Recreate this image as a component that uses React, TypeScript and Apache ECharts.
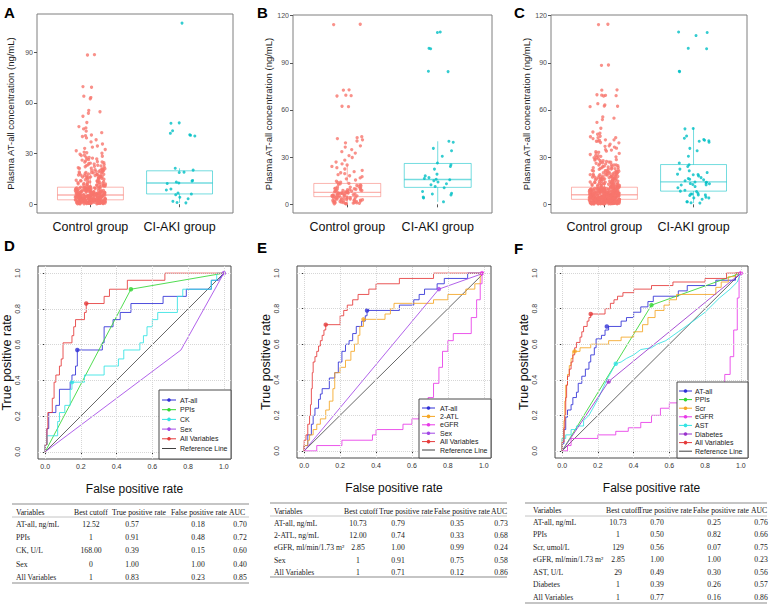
import React, { useEffect, useRef } from "react";
import * as echarts from "echarts";

// ---------------- DATA ----------------
const groupNames = ["Control group", "CI-AKI group"];
const ticksA = [0, 30, 60, 90];
const ticksBC = [0, 30, 60, 90, 120];
const rocTicks = [0, 0.2, 0.4, 0.6, 0.8, 1.0];

// Panel A (plasma AT-all, ng/mL)
const aControlLow = [0.4,1.2,2.7,0.8,3.5,5.1,1.9,4.3,6.8,2.2,0.6,7.4,3.1,5.6,1.5,8.2,4.8,2.9,0.9,6.1,3.8,9.3,1.1,5.4,2.4,7.9,4.1,0.3,10.6,3.3,6.5,1.7,8.7,2.6,5.9,0.7,11.4,4.6,3.0,7.1,1.3,9.8,2.0,6.3,4.0,12.3,0.5,5.2,3.6,8.4,1.8,6.9,2.8,13.1,4.4,0.9,7.6,3.2,10.1,1.4,5.7,2.3,9.0,4.9,0.2,6.6,3.4,11.9,1.6,8.0,2.5,5.0,14.2,3.9,7.3,1.0,6.0,4.2,9.6,2.1,0.6,12.8,5.5,3.7,8.9,1.2,7.0,2.9,10.9,4.7,0.4,6.2,3.0,13.7,1.9,5.8,2.7,8.6,4.5,1.5,11.2,6.4,3.5,7.8,0.8,9.4,2.4,5.3,14.8,3.1,1.1,6.7,4.1,10.3,2.2,7.5,0.7,5.0,12.0,3.8,8.1,1.7,6.0,2.6,4.3,9.9,1.3,13.4,5.6,3.3,7.2,0.5,4.8,2.0,11.7,6.8,1.6,8.8,3.6,5.1,15.0,2.8,0.9,7.7,4.0,10.4,1.8,6.5,3.2,12.6,2.5,5.4,0.3,9.1,4.6,1.4,7.0,3.9,14.5,2.1,6.3,8.3,1.0,5.9,3.4,11.0,0.6,4.9,2.3,7.4,13.9,1.9,6.1,4.4,9.7,2.7,0.8,5.3,
  2.4,6.9,0.5,11.3,3.7,8.1,1.3,5.2,13.5,4.0,9.4,2.0,7.2,0.9,12.1,3.3,6.0,1.7,10.0,4.8,8.6,2.6,14.0,5.7,0.4,7.7,3.0,11.6,1.1,6.4,4.5,9.9,2.9,0.7,12.9,5.1,8.3,1.5,3.9,7.0,10.8,2.2,6.6,0.3,4.2,13.2,8.9,1.8,5.5,3.4,11.9,7.4,2.7,0.9,9.2,4.6,6.2,1.2,14.6,3.1,8.0,5.9,2.1,10.4,0.6,7.8,4.3,12.5,1.6,6.7,3.6,9.5,2.5,5.0,0.8,11.1,7.1,4.1,1.4,13.8,8.4,3.2,6.1,2.0,10.7,5.4,0.5,9.0,3.8,7.5];
const aControlHigh = [88.6,88.4,69.7,69.3,64.0,63.2,62.5,55.6,54.8,53.9,52.1,48.4,46.0,45.2,44.6,43.3,42.4,41.0,40.6,40.1,39.3,38.2,36.9,35.7,34.5,33.8,33.1,32.4,31.7,30.9,30.2,29.6,29.0,28.4,27.7,27.3,26.8,26.1,25.7,25.2,24.6,24.1,23.8,23.3,22.9,22.4,22.0,21.6,21.2,20.8,20.3,20.0,19.7,19.3,18.9,18.6,18.1,17.8,17.4,17.0,16.7,16.3,16.0,15.6,15.3,24.9,23.5,22.2,21.0,19.9,19.0,18.3,17.6,16.9,16.4,15.8,21.4,18.7,17.2,16.1,20.5,19.5,17.9,16.6,15.5,27.9,26.4,25.0,23.1,28.8,30.5,26.9,22.7,24.3,17.3,15.9,19.1,16.2,18.4,20.9,15.4,17.7,16.8,19.8];
const aAki = [107.3,48.2,48.0,43.5,42.0,41.2,40.8,40.4,21.3,20.2,19.0,18.8,14.1,13.7,13.2,12.6,12.3,9.0,8.4,6.6,6.0,5.6,4.1,3.2,1.7,1.0,0.8];
// Panel B
const bControl = [114.5,114.3,72.8,72.6,69.4,69.1,68.9,62.4,62.1,43.0,42.4,41.8,41.0,40.3,39.1,37.2,36.4,34.8,33.5,32.6,31.0,29.8,28.1,26.9,25.7,25.0,24.1,23.3,22.5,21.6,20.8,20.1,19.5,18.9,18.2,17.6,16.8,16.2,15.5,3.4,9.1,0.6,12.8,6.2,1.9,14.1,7.7,4.5,10.3,2.8,8.4,0.9,13.3,5.6,11.5,3.1,7.0,1.4,9.8,6.6,2.2,12.0,4.9,8.0,0.4,10.9,5.2,3.7,7.4,1.1,9.4,6.0,2.5,13.9,4.2,8.7,0.8,11.1,5.9,3.0,7.9,1.6,6.9,10.0,2.0,4.7,8.9,0.5,12.4,5.4,3.5,7.2,1.2,9.6,6.4,2.7,14.7,4.0,8.2,1.8,10.6,5.0,3.3,7.6,0.7,6.8,9.2,2.4,11.8,4.6,8.5,1.5,5.8,3.8,7.1,0.3,10.2,6.1,2.9,13.0,4.3,8.8,1.0,5.5,9.9,3.6,7.3,2.1];
const bAki = [109.6,109.3,99.2,98.9,84.6,84.4,40.1,39.5,35.6,34.1,30.6,26.3,25.2,24.1,22.4,19.2,18.1,17.0,16.4,16.0,15.6,15.0,14.2,13.1,12.4,11.3,10.6,8.2,7.1,6.6,6.0,4.6,4.1,1.6];
// box statistics [lower whisker, Q1, median, Q3, upper whisker]
const aControlBox = [0.2, 2.6, 5.5, 10.1, 21.3];
const aAkiBox = [0.8, 6.1, 12.6, 19.8, 21.3];
const bControlBox = [0.3, 4.9, 7.6, 13.3, 25.0];
const bAkiBox = [1.6, 10.8, 15.8, 26.0, 40.1];
const cControlBox = [0.2, 3.2, 6.1, 10.9, 22.0];
const cAkiBox = [0.8, 8.4, 14.3, 25.3, 48.8];

// ROC curves [FPR, TPR]
const rocD_atall = [[0,0],[0,0.04],[0.01,0.04],[0.01,0.13],[0.02,0.13],[0.02,0.22],[0.06,0.22],[0.06,0.26],[0.08,0.26],[0.08,0.35],[0.14,0.35],[0.14,0.39],[0.15,0.39],[0.15,0.43],[0.17,0.43],[0.17,0.48],[0.18,0.48],[0.18,0.57],[0.32,0.57],[0.32,0.61],[0.33,0.61],[0.33,0.70],[0.38,0.70],[0.38,0.74],[0.42,0.74],[0.42,0.78],[0.48,0.78],[0.48,0.83],[0.66,0.83],[0.66,0.87],[0.79,0.87],[0.79,0.91],[0.93,0.91],[0.93,0.96],[0.97,0.96],[1,1]];
const rocD_ppis = [[0,0],[0.48,0.91],[1,1]];
const rocD_ck = [[0,0],[0,0.04],[0.01,0.04],[0.01,0.09],[0.07,0.09],[0.07,0.17],[0.08,0.17],[0.08,0.22],[0.11,0.22],[0.11,0.26],[0.14,0.26],[0.14,0.35],[0.15,0.35],[0.15,0.39],[0.22,0.39],[0.22,0.43],[0.33,0.43],[0.33,0.48],[0.41,0.48],[0.41,0.52],[0.44,0.52],[0.44,0.57],[0.53,0.57],[0.53,0.61],[0.55,0.61],[0.55,0.65],[0.57,0.65],[0.57,0.70],[0.6,0.70],[0.6,0.74],[0.63,0.74],[0.63,0.78],[0.74,0.78],[0.74,0.87],[0.77,0.87],[0.77,0.91],[0.93,0.91],[0.93,0.96],[0.96,0.96],[0.96,1],[1,1]];
const rocD_sex = [[0,0],[0.76,0.57],[1,1]];
const rocD_all = [[0,0],[0,0.04],[0.01,0.04],[0.01,0.13],[0.015,0.13],[0.015,0.22],[0.04,0.22],[0.04,0.30],[0.05,0.30],[0.05,0.39],[0.06,0.39],[0.06,0.43],[0.08,0.43],[0.08,0.48],[0.09,0.48],[0.09,0.52],[0.1,0.52],[0.1,0.61],[0.15,0.61],[0.15,0.65],[0.16,0.65],[0.16,0.7],[0.17,0.7],[0.17,0.74],[0.22,0.74],[0.22,0.78],[0.23,0.78],[0.23,0.83],[0.33,0.83],[0.33,0.87],[0.36,0.87],[0.36,0.91],[0.46,0.91],[0.46,0.96],[0.67,0.96],[0.67,1],[1,1]];
const rocE_atall = [[0,0],[0,0.03],[0.02,0.03],[0.02,0.09],[0.04,0.09],[0.04,0.15],[0.05,0.15],[0.05,0.2],[0.06,0.2],[0.06,0.24],[0.08,0.24],[0.08,0.29],[0.09,0.29],[0.09,0.32],[0.1,0.32],[0.1,0.35],[0.14,0.35],[0.14,0.41],[0.17,0.41],[0.17,0.44],[0.19,0.44],[0.19,0.5],[0.21,0.5],[0.21,0.56],[0.23,0.56],[0.23,0.6],[0.25,0.6],[0.25,0.62],[0.27,0.62],[0.27,0.66],[0.29,0.66],[0.29,0.7],[0.32,0.7],[0.32,0.73],[0.34,0.73],[0.34,0.76],[0.35,0.76],[0.35,0.79],[0.53,0.79],[0.53,0.82],[0.61,0.82],[0.61,0.85],[0.64,0.85],[0.64,0.88],[0.67,0.88],[0.67,0.91],[0.74,0.91],[0.74,0.94],[0.78,0.94],[0.78,0.97],[0.91,0.97],[0.91,1],[1,1]];
const rocE_2atl = [[0,0],[0,0.03],[0.02,0.03],[0.02,0.06],[0.03,0.06],[0.03,0.09],[0.05,0.09],[0.05,0.12],[0.07,0.12],[0.07,0.15],[0.09,0.15],[0.09,0.18],[0.12,0.18],[0.12,0.23],[0.14,0.23],[0.14,0.28],[0.16,0.28],[0.16,0.35],[0.17,0.35],[0.17,0.44],[0.2,0.44],[0.2,0.47],[0.23,0.47],[0.23,0.51],[0.26,0.51],[0.26,0.56],[0.28,0.56],[0.28,0.6],[0.3,0.6],[0.3,0.65],[0.31,0.65],[0.31,0.7],[0.33,0.7],[0.33,0.74],[0.45,0.74],[0.45,0.77],[0.48,0.77],[0.48,0.8],[0.5,0.8],[0.5,0.83],[0.72,0.83],[0.72,0.85],[0.8,0.85],[0.8,0.88],[0.9,0.88],[0.9,0.91],[0.95,0.91],[0.95,0.94],[0.98,0.94],[0.98,1],[1,1]];
const rocE_egfr = [[0,0],[0.07,0],[0.07,0.03],[0.21,0.03],[0.21,0.06],[0.38,0.06],[0.38,0.09],[0.40,0.09],[0.40,0.12],[0.55,0.12],[0.55,0.15],[0.6,0.15],[0.6,0.18],[0.64,0.18],[0.64,0.21],[0.66,0.21],[0.66,0.26],[0.69,0.26],[0.69,0.3],[0.72,0.3],[0.72,0.38],[0.75,0.38],[0.75,0.47],[0.77,0.47],[0.77,0.56],[0.8,0.56],[0.8,0.62],[0.83,0.62],[0.83,0.66],[0.93,0.66],[0.93,0.75],[0.96,0.75],[0.96,0.85],[0.98,0.85],[0.98,0.94],[0.99,0.94],[0.99,1],[1,1]];
const rocE_sex = [[0,0],[0.75,0.91],[1,1]];
const rocE_all = [[0,0],[0,0.06],[0.01,0.06],[0.01,0.09],[0.02,0.09],[0.02,0.15],[0.03,0.15],[0.03,0.2],[0.035,0.2],[0.035,0.26],[0.04,0.26],[0.04,0.35],[0.045,0.35],[0.045,0.44],[0.05,0.44],[0.05,0.5],[0.06,0.5],[0.06,0.53],[0.07,0.53],[0.07,0.56],[0.08,0.56],[0.08,0.59],[0.09,0.59],[0.09,0.62],[0.1,0.62],[0.1,0.65],[0.11,0.65],[0.11,0.68],[0.12,0.68],[0.12,0.71],[0.2,0.71],[0.2,0.76],[0.22,0.76],[0.22,0.79],[0.24,0.79],[0.24,0.82],[0.27,0.82],[0.27,0.85],[0.3,0.85],[0.3,0.88],[0.36,0.88],[0.36,0.91],[0.4,0.91],[0.4,0.94],[0.53,0.94],[0.53,0.97],[0.72,0.97],[0.72,1],[1,1]];
const rocF_atall = [[0,0],[0,0.04],[0.01,0.04],[0.01,0.12],[0.02,0.12],[0.02,0.19],[0.03,0.19],[0.03,0.23],[0.05,0.23],[0.05,0.26],[0.06,0.26],[0.06,0.3],[0.08,0.3],[0.08,0.33],[0.09,0.33],[0.09,0.38],[0.11,0.38],[0.11,0.42],[0.13,0.42],[0.13,0.46],[0.15,0.46],[0.15,0.5],[0.16,0.5],[0.16,0.54],[0.18,0.54],[0.18,0.58],[0.19,0.58],[0.19,0.63],[0.22,0.63],[0.22,0.65],[0.24,0.65],[0.24,0.68],[0.26,0.68],[0.26,0.7],[0.33,0.7],[0.33,0.73],[0.36,0.73],[0.36,0.75],[0.4,0.75],[0.4,0.78],[0.44,0.78],[0.44,0.81],[0.48,0.81],[0.48,0.84],[0.51,0.84],[0.51,0.87],[0.65,0.87],[0.65,0.9],[0.7,0.9],[0.7,0.93],[0.86,0.93],[0.86,0.96],[0.97,0.96],[0.97,1],[1,1]];
const rocF_ppis = [[0,0],[0.5,0.82],[1,1]];
const rocF_scr = [[0,0],[0,0.07],[0.01,0.07],[0.01,0.17],[0.015,0.17],[0.015,0.28],[0.02,0.28],[0.02,0.37],[0.03,0.37],[0.03,0.43],[0.04,0.43],[0.04,0.48],[0.05,0.48],[0.05,0.52],[0.06,0.52],[0.06,0.56],[0.1,0.56],[0.1,0.58],[0.16,0.58],[0.16,0.6],[0.26,0.6],[0.26,0.62],[0.33,0.62],[0.33,0.64],[0.4,0.64],[0.4,0.67],[0.45,0.67],[0.45,0.71],[0.48,0.71],[0.48,0.75],[0.52,0.75],[0.52,0.79],[0.57,0.79],[0.57,0.82],[0.6,0.82],[0.6,0.85],[0.64,0.85],[0.64,0.88],[0.86,0.88],[0.86,0.92],[0.89,0.92],[0.89,0.95],[0.93,0.95],[0.93,0.98],[0.97,0.98],[0.97,1],[1,1]];
const rocF_egfr = [[0,0],[0.03,0],[0.03,0.03],[0.05,0.03],[0.05,0.07],[0.2,0.07],[0.2,0.09],[0.3,0.09],[0.3,0.11],[0.37,0.11],[0.37,0.13],[0.44,0.13],[0.44,0.16],[0.5,0.16],[0.5,0.2],[0.55,0.2],[0.55,0.24],[0.6,0.24],[0.6,0.27],[0.68,0.27],[0.68,0.29],[0.76,0.29],[0.76,0.32],[0.82,0.32],[0.82,0.35],[0.87,0.35],[0.87,0.38],[0.91,0.38],[0.91,0.43],[0.94,0.43],[0.94,0.53],[0.96,0.53],[0.96,0.68],[0.98,0.68],[0.98,0.86],[0.99,0.86],[0.99,1],[1,1]];
const rocF_ast = [[0,0],[0,0.07],[0.02,0.07],[0.02,0.09],[0.05,0.09],[0.05,0.12],[0.08,0.12],[0.08,0.14],[0.12,0.14],[0.12,0.17],[0.15,0.2],[0.2,0.29],[0.25,0.4],[0.3,0.49],[0.33,0.5],[0.36,0.52],[0.4,0.54],[0.44,0.57],[0.5,0.58],[0.53,0.6],[0.58,0.62],[0.65,0.67],[0.72,0.72],[0.8,0.78],[0.88,0.86],[0.94,0.91],[0.98,0.95],[1,1]];
const rocF_diab = [[0,0],[0.26,0.39],[1,1]];
const rocF_all = [[0,0],[0,0.05],[0.01,0.05],[0.01,0.13],[0.015,0.13],[0.015,0.2],[0.02,0.2],[0.02,0.3],[0.025,0.3],[0.025,0.37],[0.03,0.37],[0.03,0.42],[0.04,0.42],[0.04,0.46],[0.05,0.46],[0.05,0.5],[0.06,0.5],[0.06,0.54],[0.07,0.54],[0.07,0.58],[0.08,0.58],[0.08,0.61],[0.1,0.61],[0.1,0.64],[0.11,0.64],[0.11,0.67],[0.12,0.67],[0.12,0.7],[0.14,0.7],[0.14,0.73],[0.15,0.73],[0.15,0.75],[0.16,0.75],[0.16,0.77],[0.24,0.77],[0.24,0.8],[0.27,0.8],[0.27,0.83],[0.29,0.83],[0.29,0.85],[0.31,0.85],[0.31,0.87],[0.34,0.87],[0.34,0.89],[0.4,0.89],[0.4,0.91],[0.5,0.91],[0.5,0.93],[0.62,0.93],[0.62,0.95],[0.8,0.95],[0.8,0.97],[0.92,0.97],[0.92,1],[1,1]];
const reference = [[0,0],[1,1]];

// best-cutoff markers [FPR, TPR] as plotted
const markD = [[0.18,0.57],[0.48,0.91],[0.15,0.39],[1,1],[0.23,0.83]];
const markE = [[0.35,0.79],[0.33,0.74],[0.99,1],[0.75,0.91],[0.12,0.71]];
const markF = [[0.25,0.70],[0.5,0.82],[0.07,0.56],[1,1],[0.30,0.49],[0.26,0.39],[0.16,0.77]];

const namesD = ["AT-all","PPIs","CK","Sex","All Variables"];
const namesE = ["AT-all","2-ATL","eGFR","Sex","All Variables"];
const namesF = ["AT-all","PPIs","Scr","eGFR","AST","Diabetes","All Variables"];

const tableHeader = ["Variables","Best cutoff","True positive rate","False positive rate","AUC"];
const tableD = [
  ["AT-all, ng/mL","12.52","0.57","0.18","0.70"],
  ["PPIs","1","0.91","0.48","0.72"],
  ["CK, U/L","168.00","0.39","0.15","0.60"],
  ["Sex","0","1.00","1.00","0.40"],
  ["All Variables","1","0.83","0.23","0.85"],
];
const tableE = [
  ["AT-all, ng/mL","10.73","0.79","0.35","0.73"],
  ["2-ATL, ng/mL","12.00","0.74","0.33","0.68"],
  ["eGFR, ml/min/1.73 m\u00B2","2.85","1.00","0.99","0.24"],
  ["Sex","1","0.91","0.75","0.58"],
  ["All Variables","1","0.71","0.12","0.86"],
];
const tableF = [
  ["AT-all, ng/mL","10.73","0.70","0.25","0.76"],
  ["PPIs","1","0.50","0.82","0.66"],
  ["Scr, umol/L","129","0.56","0.07","0.75"],
  ["eGFR, ml/min/1.73 m\u00B2","2.85","1.00","1.00","0.23"],
  ["AST, U/L","29","0.49","0.30","0.56"],
  ["Diabetes","1","0.39","0.26","0.57"],
  ["All Variables","1","0.77","0.16","0.86"],
];

// ---------------- STYLE / LAYOUT ----------------
const SANS = "Liberation Sans";
const SERIF = "Liberation Serif";
const RED = "#F8766D";
const TEAL = "#00BFC4";
const C = {
  blue: "#2F2FD6", green: "#33D633", cyan: "#33E3E3", purple: "#A347E6",
  red: "#E53A3A", orange: "#F5A623", magenta: "#E83AE8", diab: "#9932CC", ref: "#404040",
};
const colorsD = [C.blue, C.green, C.cyan, C.purple, C.red];
const colorsE = [C.blue, C.orange, C.magenta, C.purple, C.red];
const colorsF = [C.blue, C.green, C.orange, C.magenta, C.cyan, C.diab, C.red];

function jit(i: number, w: number) {
  const s = Math.sin((i + 1) * 12.9898) * 43758.5453;
  return (s - Math.floor(s) - 0.5) * 2 * w;
}

export default function App() {
  const ref = useRef<HTMLDivElement>(null);
  useEffect(() => {
    if (!ref.current) return;
    const chart = echarts.init(ref.current, null, { renderer: "svg" });

    const cControl = [...aControlLow, ...aControlHigh, ...bControl];
    const cAki = [...aAki, ...bAki];
    const boxPanels = [
      { grid: { left: 37, top: 14, width: 196, height: 199 }, min: -5.2, max: 112.7, ticks: ticksA, gap: 22,
        control: [...aControlLow, ...aControlHigh], aki: aAki, boxes: [aControlBox, aAkiBox] },
      { grid: { left: 293, top: 15, width: 199, height: 198 }, min: -5.5, max: 120.4, ticks: ticksBC, gap: 17,
        control: bControl, aki: bAki, boxes: [bControlBox, bAkiBox] },
      { grid: { left: 551, top: 15, width: 196, height: 198 }, min: -5.5, max: 120.4, ticks: ticksBC, gap: 17,
        control: cControl, aki: cAki, boxes: [cControlBox, cAkiBox] },
    ];
    const rocPanels = [
      { grid: { left: 38, top: 266, width: 193, height: 193 }, curves: [rocD_atall, rocD_ppis, rocD_ck, rocD_sex, rocD_all],
        names: namesD, colors: colorsD, marks: markD, gap: 19 },
      { grid: { left: 297, top: 266, width: 194, height: 192 }, curves: [rocE_atall, rocE_2atl, rocE_egfr, rocE_sex, rocE_all],
        names: namesE, colors: colorsE, marks: markE, gap: 20 },
      { grid: { left: 555, top: 266, width: 193, height: 192 }, curves: [rocF_atall, rocF_ppis, rocF_scr, rocF_egfr, rocF_ast, rocF_diab, rocF_all],
        names: namesF, colors: colorsF, marks: markF, gap: 21 },
    ];

    const grids: any[] = [];
    const xAxes: any[] = [];
    const yAxes: any[] = [];
    const series: any[] = [];

    boxPanels.forEach((p, k) => {
      grids.push({ ...p.grid, outerBoundsMode: "none", containLabel: false, show: true, borderColor: "#7F7F7F", borderWidth: 1, backgroundColor: "#fff", z: 0 });
      xAxes.push({
        type: "value", gridIndex: k, min: 0.4, max: 2.6,
        axisLine: { show: false }, splitLine: { show: false },
        axisTick: { show: true, customValues: [1, 2], length: 3, lineStyle: { color: "#555" } },
        axisLabel: { customValues: [1, 2], formatter: (v: number) => groupNames[Math.round(v) - 1],
          fontFamily: SANS, fontSize: 12.5, color: "#111", margin: 7 },
      });
      yAxes.push({
        type: "value", gridIndex: k, min: p.min, max: p.max,
        axisLine: { show: false }, splitLine: { show: false },
        axisTick: { show: true, customValues: p.ticks, length: 3, lineStyle: { color: "#555" } },
        axisLabel: { customValues: p.ticks, fontFamily: SANS, fontSize: 7, color: "#4D4D4D", margin: 4 },
        name: "Plasma AT-all concentration (ng/mL)", nameLocation: "middle", nameRotate: 90, nameGap: p.gap,
        nameTextStyle: { fontFamily: SANS, fontSize: 9.5, color: "#1a1a1a" },
      });
      const boxColors = ["rgba(248,118,109,0.55)", "rgba(0,191,196,0.55)"];
      series.push({
        type: "custom", xAxisIndex: k, yAxisIndex: k, z: 2, silent: true,
        data: p.boxes.map((b, i) => [i + 1, ...b]),
        encode: { x: 0, y: [1, 2, 3, 4, 5] },
        renderItem: (params: any, api: any) => {
          const x = api.value(0);
          const lo = api.coord([x, api.value(1)]);
          const q1 = api.coord([x, api.value(2)]);
          const md = api.coord([x, api.value(3)]);
          const q3 = api.coord([x, api.value(4)]);
          const hi = api.coord([x, api.value(5)]);
          const hw = api.size([0.37, 0])[0];
          const col = boxColors[params.dataIndex];
          const st = { stroke: col, lineWidth: 1, fill: "none" };
          return {
            type: "group",
            children: [
              { type: "line", shape: { x1: lo[0], y1: lo[1], x2: q1[0], y2: q1[1] }, style: st },
              { type: "line", shape: { x1: q3[0], y1: q3[1], x2: hi[0], y2: hi[1] }, style: st },
              { type: "rect", shape: { x: q1[0] - hw, y: q3[1], width: hw * 2, height: q1[1] - q3[1] }, style: st },
              { type: "line", shape: { x1: md[0] - hw, y1: md[1], x2: md[0] + hw, y2: md[1] }, style: { ...st, lineWidth: 1.4 } },
            ],
          };
        },
      });
      series.push({
        type: "scatter", xAxisIndex: k, yAxisIndex: k, z: 3, symbolSize: 3.3, silent: true,
        itemStyle: { color: RED },
        data: p.control.map((v, i) => [1 + jit(i, 0.17), v]),
      });
      series.push({
        type: "scatter", xAxisIndex: k, yAxisIndex: k, z: 3, symbolSize: 3, silent: true,
        itemStyle: { color: TEAL },
        data: p.aki.map((v, i) => [2 + jit(i + 500, 0.18), v]),
      });
    });

    rocPanels.forEach((p, j) => {
      const k = j + 3;
      grids.push({ ...p.grid, outerBoundsMode: "none", containLabel: false, show: true, borderColor: "#4a4a4a", borderWidth: 1, backgroundColor: "#fff", z: 0 });
      xAxes.push({
        type: "value", gridIndex: k, min: -0.04, max: 1.04,
        axisLine: { show: false }, splitLine: { show: false },
        axisTick: { show: true, customValues: rocTicks, length: 3, lineStyle: { color: "#333" } },
        axisLabel: { customValues: rocTicks, formatter: (v: number) => v.toFixed(1),
          fontFamily: SANS, fontSize: 7, color: "#333", margin: 4 },
        name: "False positive rate", nameLocation: "middle", nameGap: 24,
        nameTextStyle: { fontFamily: SANS, fontSize: 12, color: "#111" },
      });
      yAxes.push({
        type: "value", gridIndex: k, min: -0.04, max: 1.04,
        axisLine: { show: false }, splitLine: { show: false },
        axisTick: { show: true, customValues: rocTicks, length: 3, lineStyle: { color: "#333" } },
        axisLabel: { customValues: rocTicks, formatter: (v: number) => v.toFixed(1), rotate: 90,
          fontFamily: SANS, fontSize: 7, color: "#333", margin: 17 },
        name: "True positive rate", nameLocation: "middle", nameRotate: 90, nameGap: p.gap,
        nameTextStyle: { fontFamily: SANS, fontSize: 12.5, color: "#111" },
      });
      series.push({
        type: "line", xAxisIndex: k, yAxisIndex: k, z: 2, data: reference, showSymbol: false, silent: true,
        lineStyle: { color: C.ref, width: 0.8 },
        markLine: {
          silent: true, symbol: ["none", "none"], label: { show: false },
          lineStyle: { color: "#d6d6d6", type: "dotted", width: 1 },
          data: [...rocTicks.map((v) => ({ xAxis: v })), ...rocTicks.map((v) => ({ yAxis: v }))],
        },
      });
      p.curves.forEach((c, i) => {
        series.push({
          type: "line", xAxisIndex: k, yAxisIndex: k, z: 3, data: c, showSymbol: false, silent: true,
          lineStyle: { color: p.colors[i], width: 1, opacity: 0.85 },
        });
      });
      series.push({
        type: "scatter", xAxisIndex: k, yAxisIndex: k, z: 4, symbolSize: 4.5, silent: true,
        data: p.marks.map((m, i) => ({ value: m, itemStyle: { color: p.colors[i] } })),
      });
    });

    // graphic: letters, legends, tables
    const graphic: any[] = [];
    const letter = (t: string, x: number, y: number) =>
      graphic.push({ type: "text", x, y, style: { text: t, fill: "#000", fontFamily: SANS, fontWeight: "bold", fontSize: 15,
        align: "left", verticalAlign: "top", textAlign: "left", textVerticalAlign: "top" } });
    letter("A", 4, 5); letter("B", 257, 5); letter("C", 514, 5);
    letter("D", 4, 238); letter("E", 257, 240); letter("F", 514, 241);

    const legends = [
      { x: 159, y: 390, w: 72, h: 69, first: 400, step: 9.7, l1: 162, l2: 176, tx: 180, names: namesD, colors: colorsD },
      { x: 419, y: 399, w: 72, h: 59, first: 408, step: 8.4, l1: 422, l2: 435, tx: 440, names: namesE, colors: colorsE },
      { x: 677, y: 382, w: 71, h: 76, first: 391, step: 8.6, l1: 679, l2: 692, tx: 695, names: namesF, colors: colorsF },
    ];
    legends.forEach((L) => {
      graphic.push({ type: "rect", shape: { x: L.x, y: L.y, width: L.w, height: L.h },
        style: { fill: "#fff", stroke: "#4a4a4a", lineWidth: 1 }, z: 50 });
      const items = [...L.names.map((n, i) => ({ n, c: L.colors[i], dot: true })), { n: "Reference Line", c: C.ref, dot: false }];
      items.forEach((it, i) => {
        const y = L.first + i * L.step;
        graphic.push({ type: "line", shape: { x1: L.l1, y1: y, x2: L.l2, y2: y }, style: { stroke: it.c, lineWidth: 1 }, z: 51 });
        if (it.dot) graphic.push({ type: "circle", shape: { cx: (L.l1 + L.l2) / 2, cy: y, r: 1.8 }, style: { fill: it.c }, z: 52 });
        graphic.push({ type: "text", x: L.tx, y, z: 52, style: { text: it.n, fill: "#222", fontFamily: SANS, fontSize: 7,
          align: "left", verticalAlign: "middle", textAlign: "left", textVerticalAlign: "middle" } });
      });
    });

    const tables = [
      { rows: tableD, x1: 12, x2: 249, top: 504, head: 512, headLine: 517, first: 524, step: 13.4, bottom: 583,
        varX: 16, headX: [74, 112, 171, 229], valX: [91, 132, 198, 240] },
      { rows: tableE, x1: 270, x2: 507, top: 503, head: 511, headLine: 516, first: 523, step: 12.4, bottom: 577,
        varX: 274, headX: [344, 379, 434, 491], valX: [358, 398, 457, 501] },
      { rows: tableF, x1: 525, x2: 767, top: 503, head: 510, headLine: 516, first: 522, step: 12.5, bottom: 603,
        varX: 533, headX: [606, 638, 693, 751], valX: [618, 657, 714, 761] },
    ];
    const ttext = (t: string, x: number, y: number, align: string, color = "#222") =>
      graphic.push({ type: "text", x, y, style: { text: t, fill: color, fontFamily: SERIF, fontSize: 7.7,
        align, verticalAlign: "middle", textAlign: align, textVerticalAlign: "middle" } });
    tables.forEach((T) => {
      graphic.push({ type: "line", shape: { x1: T.x1, y1: T.top, x2: T.x2, y2: T.top }, style: { stroke: "#8c8c8c", lineWidth: 1.2 } });
      graphic.push({ type: "line", shape: { x1: T.x1, y1: T.headLine, x2: T.x2, y2: T.headLine }, style: { stroke: "#b5b5b5", lineWidth: 0.8 } });
      graphic.push({ type: "line", shape: { x1: T.x1, y1: T.bottom, x2: T.x2, y2: T.bottom }, style: { stroke: "#8c8c8c", lineWidth: 1.2 } });
      ttext(tableHeader[0], T.varX, T.head, "left", "#111");
      T.headX.forEach((hx, i) => ttext(tableHeader[i + 1], hx, T.head, "left", "#111"));
      T.rows.forEach((r, ri) => {
        const y = T.first + ri * T.step;
        ttext(r[0], T.varX, y, "left");
        T.valX.forEach((vx, i) => ttext(r[i + 1], vx, y, "center"));
      });
    });

    chart.setOption({
      animation: false,
      backgroundColor: "#fff",
      grid: grids,
      xAxis: xAxes,
      yAxis: yAxes,
      series,
      graphic,
    });
    return () => chart.dispose();
  }, []);
  return <div ref={ref} style={{ position: "absolute", left: 0, top: 0, width: 771, height: 606 }} />;
}
